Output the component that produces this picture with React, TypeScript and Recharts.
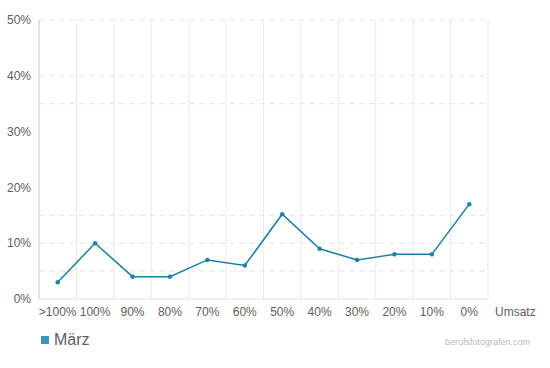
import { LineChart, Line, XAxis, YAxis, CartesianGrid } from 'recharts'

// Umsatz-Kategorien (x-Achse)
const categories = ['>100%', '100%', '90%', '80%', '70%', '60%', '50%', '40%', '30%', '20%', '10%', '0%']
// Anteil in Prozent, März
const maerz = [3, 10, 4, 4, 7, 6, 15.2, 9, 7, 8, 8, 17]
const yTicks = [0, 10, 20, 30, 40, 50]
const dashedLines = [5, 10, 15, 35, 40, 50]

const data = categories.map((c, i) => ({ x: i + 0.5, label: c, value: maerz[i] }))
const xTicks = categories.map((_, i) => i + 0.5)
const bandEdges = categories.map((_, i) => i + 1)

const font = '"Liberation Sans", Arial, sans-serif'
const lineColor = '#1b7ea3'
const textColor = '#606060'

export default function App() {
  return (
    <div style={{ position: 'absolute', left: 0, top: 0, width: 550, height: 368, background: '#fff', fontFamily: font }}>
      <LineChart
        width={550}
        height={368}
        data={data}
        margin={{ top: 20, right: 62, left: 0, bottom: 39 }}
      >
        <CartesianGrid
          horizontal={false}
          stroke="#ebebeb"
          verticalValues={bandEdges}
        />
        <CartesianGrid
          vertical={false}
          stroke="#e6e6e6"
          strokeDasharray="6 4"
          horizontalValues={dashedLines}
        />
        <XAxis
          type="number"
          dataKey="x"
          domain={[0, 12]}
          ticks={xTicks}
          tickFormatter={(v: number) => categories[Math.floor(v)]}
          interval={0}
          height={30}
          tick={{ fontSize: 12, fill: textColor, fontFamily: font }}
          tickLine={false}
          axisLine={{ stroke: '#e2e2e2' }}
          label={{ value: 'Umsatz', position: 'right', offset: 7, fontSize: 12, fill: textColor, fontFamily: font, dy: -2 }}
        />
        <YAxis
          type="number"
          domain={[0, 50]}
          ticks={yTicks}
          width={39}
          tickFormatter={(v: number) => `${v}%`}
          tick={{ fontSize: 12, fill: textColor, fontFamily: font }}
          tickLine={false}
          axisLine={{ stroke: '#e2e2e2', strokeWidth: 2 }}
        />
        <Line
          dataKey="value"
          stroke={lineColor}
          strokeWidth={1.5}
          dot={{ r: 2, fill: lineColor, stroke: lineColor, strokeWidth: 0.5 }}
          isAnimationActive={false}
        />
      </LineChart>
      <div style={{ position: 'absolute', left: 41, top: 336, width: 8, height: 8, background: '#3a97bb' }} />
      <div style={{ position: 'absolute', left: 54, top: 331, fontSize: 16, color: textColor, lineHeight: '18px' }}>März</div>
      <div style={{ position: 'absolute', right: 20, top: 337, fontSize: 9, color: '#bbb', lineHeight: '10px' }}>berufsfotografen.com</div>
    </div>
  )
}
